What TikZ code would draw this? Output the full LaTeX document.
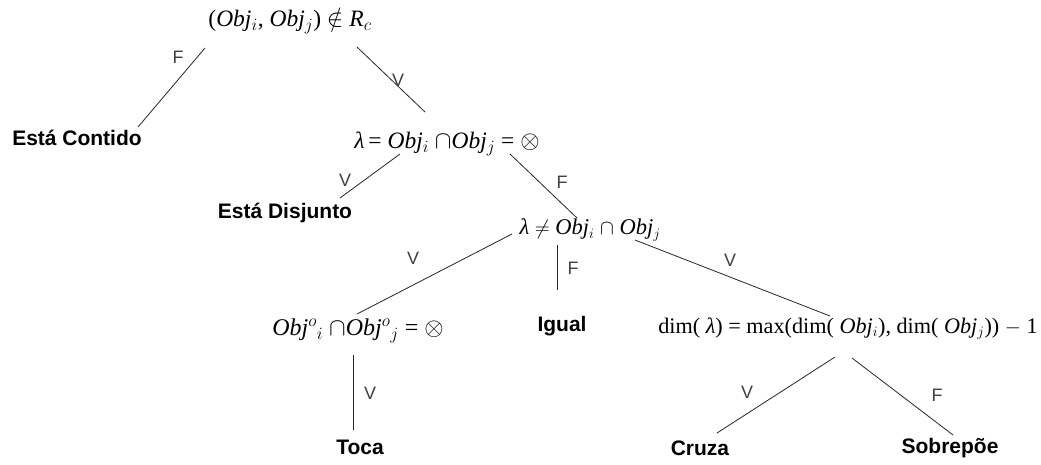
\documentclass[tikz,border=0pt]{standalone}
\usepackage{fontspec}
\setmainfont{Liberation Serif}
\setsansfont{Liberation Sans}
\newcommand{\Ob}{\textit{Obj}}
\begin{document}
\begin{tikzpicture}[x=1pt,y=-1pt,
  every node/.style={inner sep=0pt, outer sep=0pt},
  mathnode/.style={font=\fontsize{23.5}{27}\selectfont},
  leaf/.style={font=\sffamily\bfseries\fontsize{21}{25}\selectfont},
  lab/.style={font=\sffamily\fontsize{18}{22}\selectfont, text=black!75},
  edge/.style={draw=black!85, line width=0.8pt}]
\useasboundingbox (0,0) rectangle (1041,464);
% decision nodes
\node[mathnode] (root) at (290,21) {(\Ob$_i$, \Ob$_j$) $\notin$ \textit{R}$_c$};
\node[mathnode] (n1) at (447,144) {\textit{λ}\,= \Ob$_i$ $\cap$\Ob$_j$ = $\otimes$};
\node[mathnode,font=\fontsize{22.5}{27}\selectfont] (n2) at (590,230) {\textit{λ} $\neq$ \Ob$_i$ $\cap$ \Ob$_j$};
\node[mathnode,font=\fontsize{24}{27}\selectfont] (obj) at (358,331) {\Ob$^o{}_i$ $\cap$\Ob$^o{}_j$ = $\otimes$};
\node[mathnode,font=\fontsize{22.2}{27}\selectfont] (dim) at (848,329) {dim( \textit{λ}) = max(dim( \Ob$_i$), dim( \Ob$_j$)) $-$ 1};
% leaves
\node[leaf] (L1) at (77,138) {Está Contido};
\node[leaf] (L2) at (285,213) {Está Disjunto};
\node[leaf] (igual) at (562,326) {Igual};
\node[leaf] (toca) at (360,447) {Toca};
\node[leaf] (cruza) at (700,448) {Cruza};
\node[leaf] (sob) at (950,448) {Sobrepõe};
% connectors
\draw[edge] ([shift={(-85,27)}]root.center) -- ([shift={(61,-11)}]L1.center);
\draw[edge] ([shift={(67,26)}]root.center) -- ([shift={(-22,-32)}]n1.center);
\draw[edge] ([shift={(-47,10)}]n1.center) -- ([shift={(55,-15)}]L2.center);
\draw[edge] ([shift={(63,10)}]n1.center) -- ([shift={(-13,-12)}]n2.center);
\draw[edge] ([shift={(-78,4)}]n2.center) -- ([shift={(-1,-17)}]obj.center);
\draw[edge] ([shift={(-33,15)}]n2.center) -- ([shift={(-5,-36)}]igual.center);
\draw[edge] ([shift={(45,10)}]n2.center) -- ([shift={(-18,-13)}]dim.center);
\draw[edge] ([shift={(-5,24)}]obj.center) -- ([shift={(-7,-17)}]toca.center);
\draw[edge] ([shift={(-13,28)}]dim.center) -- ([shift={(17,-15)}]cruza.center);
\draw[edge] ([shift={(4,29)}]dim.center) -- ([shift={(3,-13)}]sob.center);
% branch labels
\node[lab] (f1) at (178,57) {F};
\node[lab] (v1) at (398,80) {V};
\node[lab] (v2) at (345,180) {V};
\node[lab] (f2) at (562,182) {F};
\node[lab] (v3) at (413,258) {V};
\node[lab] (f3) at (573,268) {F};
\node[lab] (v4) at (730,260) {V};
\node[lab] (v5) at (370,393) {V};
\node[lab] (v6) at (747,392) {V};
\node[lab] (f6) at (937,395) {F};
\end{tikzpicture}
\end{document}
